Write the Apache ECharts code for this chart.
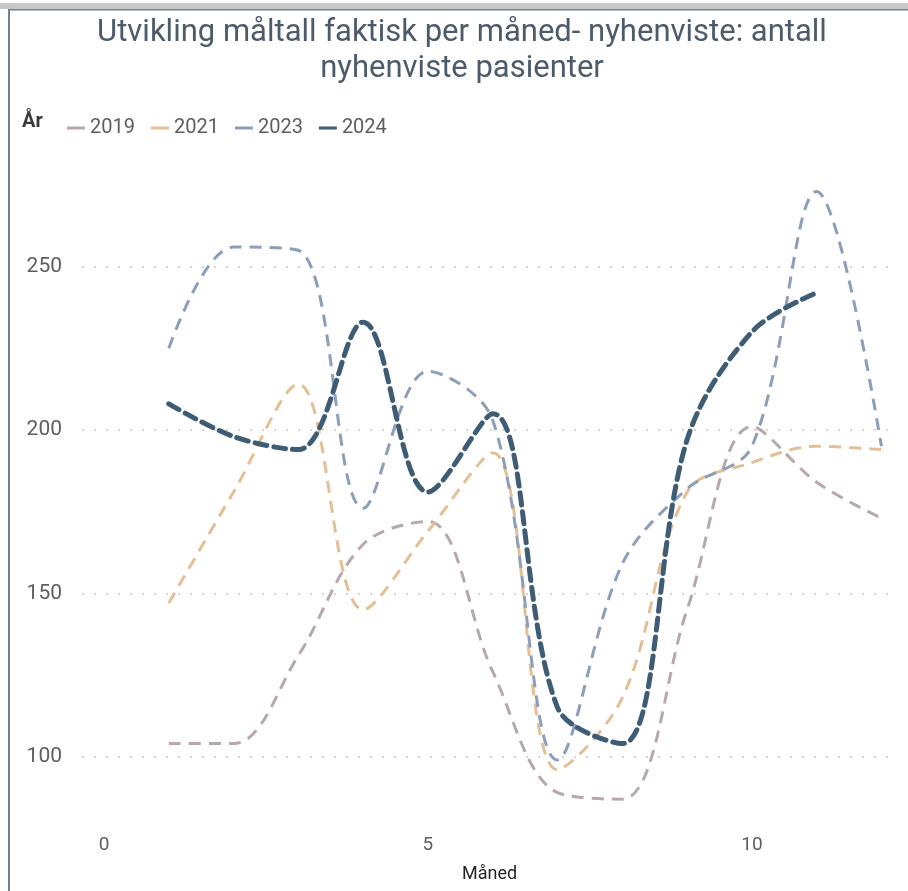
<!DOCTYPE html>
<html>
<head>
<meta charset="utf-8">
<script src="https://cdn.jsdelivr.net/npm/echarts@6/dist/echarts.min.js"></script>
<style>
  html, body { margin: 0; padding: 0; background: #fff; }
  #main { width: 908px; height: 891px; }
</style>
</head>
<body>
<div id="main"></div>
<script>
// Måned 1..12, verdier lest av bildet
const months = [1, 2, 3, 4, 5, 6, 7, 8, 9, 10, 11, 12];
const years = ['2019', '2021', '2023', '2024'];
const v2019 = [104, 104, 131, 165, 172, 126, 89, 87, 145, 201, 184, 173];
const v2021 = [147, 181, 214, 145, 169, 193, 96, 118, 181, 190, 195, 194];
const v2023 = [225, 256, 255, 176, 218, 203, 99, 159, 182, 195, 273, 195];
const v2024 = [208, 198, 194, 233, 181, 205, 115, 104, 197, 230, 242];
const values = [v2019, v2021, v2023, v2024];
const colors = ['#b7a8aa', '#e4bf95', '#8c9eba', '#3f5c75'];

const font = 'Roboto, "Noto Sans", sans-serif';

function pairs(arr) {
    return arr.map((v, i) => [months[i], v]);
}

const series = years.map((y, i) => ({
    name: y,
    type: 'line',
    data: pairs(values[i]),
    smooth: 0.35,
    showSymbol: false,
    symbol: 'none',
    z: i === 3 ? 5 : 2,
    lineStyle: {
        color: colors[i],
        width: i === 3 ? 5 : 3,
        type: i === 3 ? [12, 7] : [12, 8],
        cap: i === 3 ? 'round' : 'butt'
    },
    itemStyle: { color: colors[i] }
}));

const chart = echarts.init(document.getElementById('main'));
chart.setOption({
    animation: false,
    color: colors,
    graphic: [
        { type: 'rect', shape: { x: 0, y: 3, width: 908, height: 6 }, style: { fill: '#c8c8c8' }, silent: true },
        { type: 'rect', shape: { x: 9, y: 9, width: 899, height: 1.5 }, style: { fill: '#6e8197' }, silent: true },
        { type: 'rect', shape: { x: 8, y: 9, width: 2, height: 882 }, style: { fill: '#6e8197' }, silent: true },
        {
            type: 'text', x: 462, y: 15,
            style: {
                text: 'Utvikling måltall faktisk per måned- nyhenviste: antall\nnyhenviste pasienter',
                align: 'center', verticalAlign: 'top',
                font: '31px Roboto, "Noto Sans", sans-serif',
                lineHeight: 36, fill: '#4c5a6a'
            }
        },
        {
            type: 'text', x: 22, y: 112,
            style: {
                text: 'År', font: 'bold 20px Roboto, "Noto Sans", sans-serif',
                fill: '#3b3a39'
            }
        }
    ],
    legend: {
        left: 62,
        top: 113,
        icon: 'rect',
        itemWidth: 18,
        itemHeight: 3,
        itemGap: 16,
        textStyle: { fontSize: 20, color: '#605e5c', fontFamily: font },
        data: years
    },
    grid: { left: 82, right: 11, top: 149, bottom: 69 },
    xAxis: {
        type: 'value',
        min: -0.34,
        max: 12.24,
        splitNumber: 2,
        name: 'Måned',
        nameLocation: 'middle',
        nameGap: 43,
        nameTextStyle: { fontSize: 18, color: '#252423', fontFamily: font },
        axisLine: { show: false },
        axisTick: { show: false },
        splitLine: { show: false },
        axisLabel: {
            fontSize: 19, color: '#605e5c', fontFamily: font, margin: 14,
            showMinLabel: false, showMaxLabel: false
        }
    },
    yAxis: {
        type: 'value',
        min: 80,
        max: 286,
        splitNumber: 4,
        axisLine: { show: false },
        axisTick: { show: false },
        axisLabel: {
            fontSize: 21, color: '#605e5c', fontFamily: font, margin: 20,
            showMinLabel: false, showMaxLabel: false
        },
        splitLine: {
            show: true,
            showMinLine: false,
            showMaxLine: false,
            lineStyle: { color: '#c8c8c8', width: 1.5, type: [2, 10] }
        }
    },
    series: series
});
</script>
</body>
</html>
